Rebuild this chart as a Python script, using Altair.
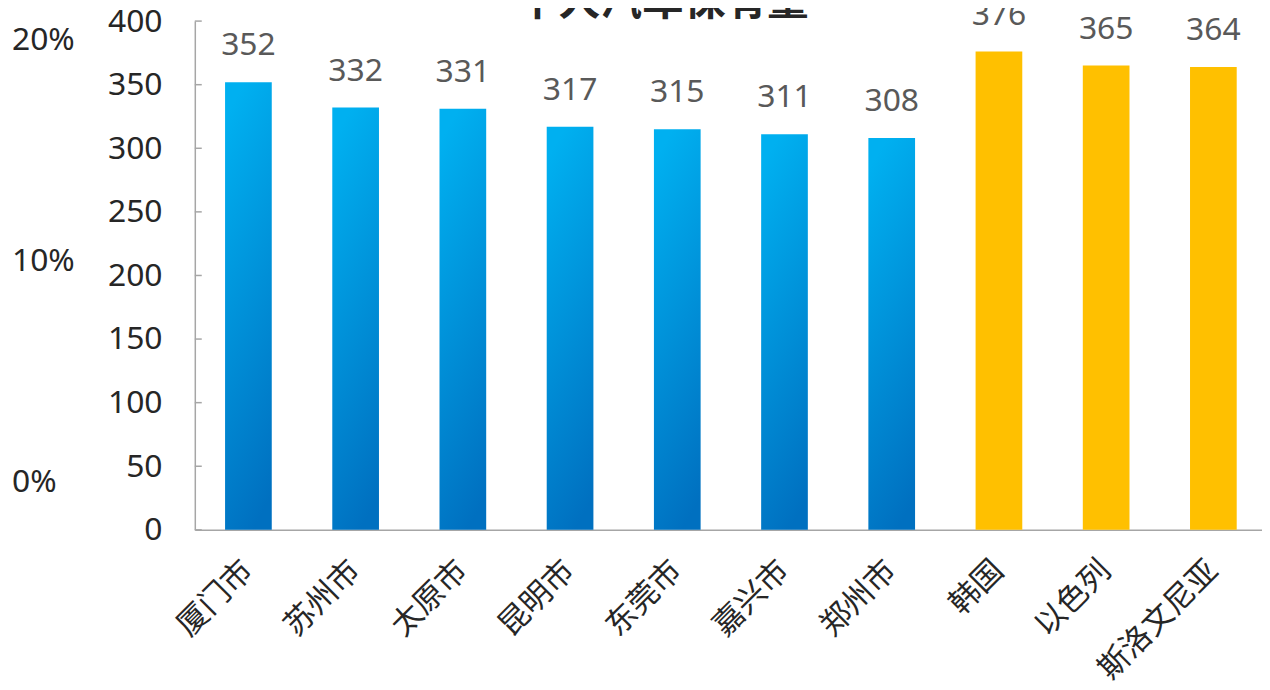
import altair as alt
import pandas as pd

categories = ["厦门市", "苏州市", "太原市", "昆明市", "东莞市", "嘉兴市", "郑州市", "韩国", "以色列", "斯洛文尼亚"]
values = [352, 332, 331, 317, 315, 311, 308, 376, 365, 364]
groups = ["city"] * 7 + ["country"] * 3
y_ticks = [0, 50, 100, 150, 200, 250, 300, 350, 400]
pct_ticks = [0.0, 0.1, 0.2]
pct_domain = [-0.0216, 0.2085]
title_text = ["千人汽车保有量"]

FONT = "Noto Sans, Noto Sans CJK SC"

df = pd.DataFrame({"cat": categories, "value": values, "group": groups})
tick_df = pd.DataFrame({"t": y_ticks})
pct_df = pd.DataFrame({"p": pct_ticks})
title_df = pd.DataFrame({"title": title_text})

x_enc = alt.X(
    "cat:N",
    sort=categories,
    title=None,
    scale=alt.Scale(paddingInner=0.5645, paddingOuter=0.2822),
    axis=alt.Axis(
        labelAngle=-45,
        labelAlign="right",
        labelBaseline="middle",
        labelFontSize=31,
        labelFont=FONT,
        labelColor="#262626",
        labelPadding=36,
        ticks=False,
        domainColor="#A6A6A6",
        domainWidth=1.5,
    ),
)

y_scale = alt.Scale(domain=[0, 400])
y_enc = alt.Y(
    "value:Q",
    scale=y_scale,
    title=None,
    axis=alt.Axis(
        values=y_ticks,
        grid=False,
        ticks=False,
        tickSize=0,
        labelFontSize=32,
        labelFont=FONT,
        labelColor="#262626",
        labelPadding=33,
        domainColor="#A6A6A6",
        domainWidth=1.5,
    ),
)

gradient = alt.Gradient(
    gradient="linear",
    stops=[
        alt.GradientStop(color="#00B0F0", offset=0),
        alt.GradientStop(color="#0070C0", offset=1),
    ],
    x1=0.4, x2=0.6, y1=0, y2=1,
)

base = alt.Chart(df)

blue = base.transform_filter(alt.datum.group == "city").mark_bar(color=gradient).encode(x=x_enc, y=y_enc)
orange = base.transform_filter(alt.datum.group == "country").mark_bar(color="#FFC000").encode(x=x_enc, y=y_enc)
labels = base.mark_text(
    font=FONT, fontSize=32, color="#595959", baseline="alphabetic", dy=-27
).encode(x=x_enc, y=y_enc, text="value:Q")

ticks = alt.Chart(tick_df).mark_rule(color="#A6A6A6", strokeWidth=1.5).encode(
    y=alt.Y("t:Q", scale=y_scale),
    x=alt.value(0),
    x2=alt.value(7),
)

title = alt.Chart(title_df).mark_text(
    font=FONT, fontSize=42, fontWeight="bold", color="#262626",
    align="center", baseline="alphabetic",
).encode(text="title:N", x=alt.value(471), y=alt.value(-6))

inner = alt.layer(blue, orange, labels, ticks)

pct = alt.Chart(pct_df).mark_text(
    font=FONT, fontSize=32, color="#262626", align="left", baseline="middle"
).encode(
    y=alt.Y("p:Q", scale=alt.Scale(domain=pct_domain), axis=None),
    x=alt.value(-184),
    text=alt.Text("p:Q", format=".0%"),
)

chart = alt.layer(inner, pct, title).resolve_scale(y="independent").properties(
    width=1079,
    height=512,
    autosize=alt.AutoSizeParams(type="none"),
    padding={"left": 188, "top": 11, "right": -5, "bottom": 159},
).configure_view(stroke=None)

chart.save("out.html", embed_options={"renderer": "svg", "actions": False})
